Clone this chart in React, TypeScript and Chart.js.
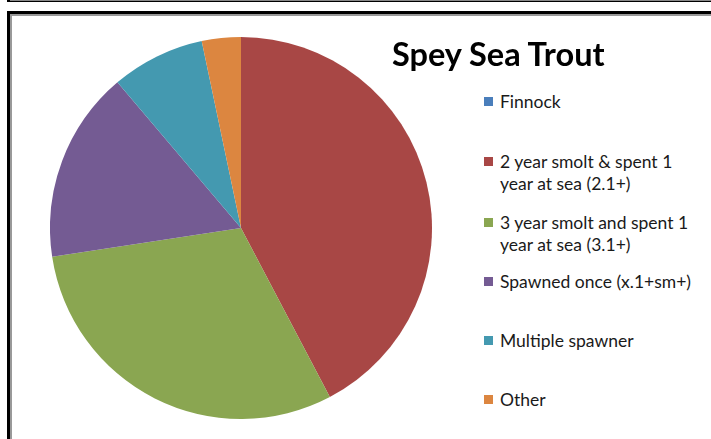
import React, { useEffect, useRef } from "react";
import { Chart, registerables } from "chart.js";

Chart.register(...registerables);

const TITLE = "Spey Sea Trout";
const CATEGORIES = [
  "Finnock",
  "2 year smolt & spent 1 year at sea (2.1+)",
  "3 year smolt and spent 1 year at sea (3.1+)",
  "Spawned once (x.1+sm+)",
  "Multiple spawner",
  "Other",
];
const LEGEND_LINES = [
  ["Finnock"],
  ["2 year smolt & spent 1", "year at sea (2.1+)"],
  ["3 year smolt and spent 1", "year at sea (3.1+)"],
  ["Spawned once (x.1+sm+)"],
  ["Multiple spawner"],
  ["Other"],
];
const VALUES = [0, 42.3, 30.3, 16.2, 7.9, 3.3];
const COLORS = ["#4A7EBB", "#A84745", "#8AA651", "#745B93", "#4499B0", "#DC8640"];
const LEGEND_TOPS = [90, 150, 211, 270, 329, 388];

export default function App() {
  const ref = useRef<HTMLCanvasElement | null>(null);
  useEffect(() => {
    if (!ref.current) return;
    const chart = new Chart(ref.current, {
      type: "pie",
      data: {
        labels: CATEGORIES,
        datasets: [
          {
            data: VALUES,
            backgroundColor: COLORS,
            borderWidth: 0,
          },
        ],
      },
      options: {
        responsive: false,
        animation: false,
        layout: { padding: 0 },
        plugins: { legend: { display: false }, tooltip: { enabled: false }, title: { display: false } },
      },
    });
    return () => chart.destroy();
  }, []);

  const font = "Lato, 'Open Sans', sans-serif";
  return (
    <div style={{ position: "absolute", left: 0, top: 0, width: 711, height: 439, background: "#fff", overflow: "hidden" }}>
      {/* upper frame remnant */}
      <div style={{ position: "absolute", left: 7, top: -20, width: 720, height: 20, borderLeft: "3px solid #000", borderBottom: "2px solid #000", boxSizing: "content-box" }} />
      <div style={{ position: "absolute", left: 10, top: 0, width: 720, height: 0, borderTop: "1px solid #888" }} />
      {/* lower frame */}
      <div style={{ position: "absolute", left: 7, top: 11, width: 720, height: 460, borderLeft: "3px solid #000", borderTop: "3px solid #000" }} />
      <div style={{ position: "absolute", left: 10, top: 14, width: 720, height: 460, borderLeft: "2px solid #999", borderTop: "2px solid #999" }} />
      <canvas ref={ref} width={382} height={382} style={{ position: "absolute", left: 50, top: 37, width: 382, height: 382 }} />
      <div style={{ position: "absolute", left: 392, top: 34, fontFamily: font, fontWeight: 700, fontSize: 32.5, color: "#000", whiteSpace: "nowrap", lineHeight: "40px" }}>
        {TITLE}
      </div>
      {LEGEND_LINES.map((lines, i) => (
        <div key={i} style={{ position: "absolute", left: 484, top: LEGEND_TOPS[i] + 1 }}>
          <div style={{ position: "absolute", left: 0, top: 6, width: 9, height: 9, background: COLORS[i] }} />
          <div style={{ position: "absolute", left: 16, top: 0, fontFamily: font, fontSize: 17.5, lineHeight: "22px", color: "#1a1a1a", whiteSpace: "nowrap" }}>
            {lines.map((l, j) => (
              <div key={j}>{l}</div>
            ))}
          </div>
        </div>
      ))}
    </div>
  );
}
